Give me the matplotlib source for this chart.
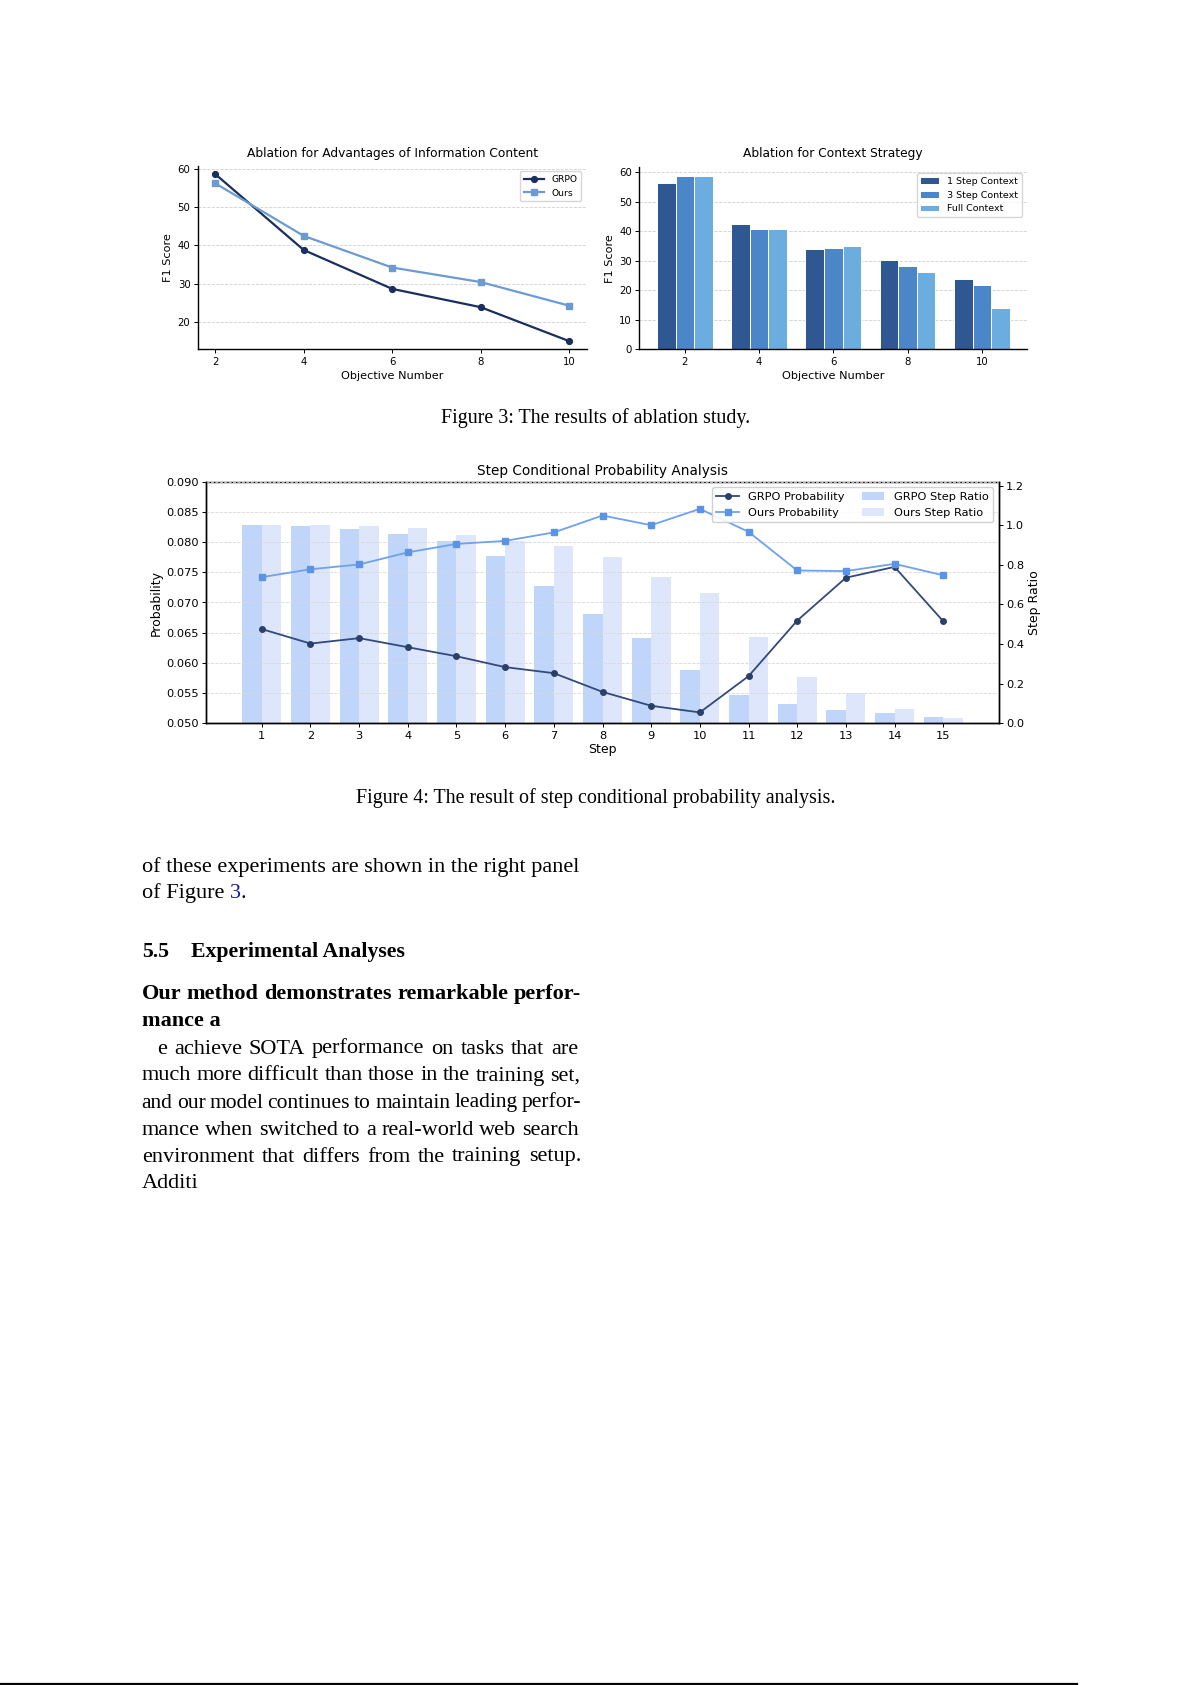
import matplotlib
matplotlib.use("Agg")
import matplotlib.pyplot as plt
import numpy as np
from matplotlib.ticker import FormatStrFormatter

# ---------------- data ----------------
objective_numbers = [2, 4, 6, 8, 10]
grpo_f1 = [58.7, 38.8, 28.6, 23.8, 14.9]
ours_f1 = [56.3, 42.5, 34.2, 30.4, 24.2]

ctx_labels = ["1 Step Context", "3 Step Context", "Full Context"]
ctx_1step = [56.3, 42.4, 33.9, 30.2, 23.8]
ctx_3step = [58.6, 40.7, 34.3, 28.2, 21.8]
ctx_full = [58.6, 40.7, 35.0, 26.2, 14.0]

steps = list(range(1, 16))
grpo_prob = [0.0656, 0.0632, 0.0641, 0.0626, 0.0611, 0.0593, 0.0583, 0.0552,
             0.0529, 0.0518, 0.0578, 0.0670, 0.0741, 0.0759, 0.0669]
ours_prob = [0.0742, 0.0755, 0.0763, 0.0783, 0.0797, 0.0802, 0.0816, 0.0844,
             0.0828, 0.0855, 0.0817, 0.0753, 0.0752, 0.0764, 0.0745]
grpo_ratio = [1.000, 0.996, 0.981, 0.956, 0.921, 0.845, 0.693, 0.552,
              0.431, 0.269, 0.145, 0.097, 0.067, 0.054, 0.032]
ours_ratio = [1.000, 1.000, 0.996, 0.986, 0.951, 0.921, 0.895, 0.840,
              0.739, 0.658, 0.436, 0.234, 0.153, 0.072, 0.027]

caption3 = "Figure 3: The results of ablation study."
caption4 = "Figure 4: The result of step conditional probability analysis."
para1_line1 = "of these experiments are shown in the right panel"
section_num = "5.5"
section_title = "Experimental Analyses"
bold_lines = ["Our method demonstrates remarkable perfor-", "mance a"]
body_lines = ["e achieve SOTA performance on tasks that are",
              "much more difficult than those in the training set,",
              "and our model continues to maintain leading perfor-",
              "mance when switched to a real-world web search",
              "environment that differs from the training setup.",
              "Additi"]

# ---------------- figure ----------------
W, H = 1192, 1685
fig = plt.figure(figsize=(W / 100, H / 100), dpi=100)
fig.patch.set_facecolor("white")
renderer = fig.canvas.get_renderer()
SERIF = ["Liberation Serif", "DejaVu Serif"]


def rect(x0, y0, x1, y1):
    return [x0 / W, 1 - y1 / H, (x1 - x0) / W, (y1 - y0) / H]


def px(x, y):
    return x / W, 1 - y / H


def word_width(w, size, weight="normal"):
    t = fig.text(0, 0, w, fontsize=size, fontweight=weight, family=SERIF)
    wd = t.get_window_extent(renderer).width
    t.remove()
    return wd


def calib(s, target, weight="normal"):
    return 20.0 * target / word_width(s, 20.0, weight)


def text_line(s, x0, yb, size, weight="normal", x1=None, mingap=4.2):
    if x1 is None:
        fig.text(*px(x0, yb), s, fontsize=size, fontweight=weight,
                 family=SERIF, va="baseline", ha="left")
        return
    words = s.split()
    widths = [word_width(w, size, weight) for w in words]
    gap = (x1 - x0 - sum(widths)) / (len(words) - 1)
    if gap < mingap:
        size = size * (x1 - x0 - mingap * (len(words) - 1)) / sum(widths)
        widths = [word_width(w, size, weight) for w in words]
        gap = (x1 - x0 - sum(widths)) / (len(words) - 1)
    x = x0
    for w, wd in zip(words, widths):
        fig.text(*px(x, yb), w, fontsize=size, fontweight=weight,
                 family=SERIF, va="baseline", ha="left")
        x += wd + gap


def style_top(ax):
    ax.spines["top"].set_visible(False)
    ax.spines["right"].set_visible(False)
    for s in ["left", "bottom"]:
        ax.spines[s].set_linewidth(1.0)
    ax.tick_params(labelsize=7.3, length=2.6, width=0.7, pad=2.6)
    ax.yaxis.grid(True, linestyle="--", color="#d0d0d0", linewidth=0.6)
    ax.set_axisbelow(True)


# ---- top-left ----
ax1 = fig.add_axes(rect(197.7, 165.9, 586.7, 349.4))
ax1.plot(objective_numbers, grpo_f1, "-o", color="#1B2F5E", lw=1.6, ms=4.2, label="GRPO")
ax1.plot(objective_numbers, ours_f1, "-s", color="#6C9BD2", lw=1.6, ms=4.2, label="Ours")
ax1.set_xticks(objective_numbers)
style_top(ax1)
ax1.set_title("Ablation for Advantages of Information Content", fontsize=8.8, pad=6.5)
ax1.set_xlabel("Objective Number", fontsize=8.1, labelpad=3)
ax1.set_ylabel("F1 Score", fontsize=8.1, labelpad=3)
ax1.legend(loc="upper right", fontsize=6.6, borderaxespad=0.6, handlelength=2.2)

# ---- top-right ----
ax2 = fig.add_axes(rect(639.3, 167.5, 1027.3, 349.3))
xo = np.array(objective_numbers, dtype=float)
bw = 0.5
ax2.bar(xo - bw, ctx_1step, bw, color="#2F5792", edgecolor="white", lw=0.7, label=ctx_labels[0])
ax2.bar(xo, ctx_3step, bw, color="#4A86C8", edgecolor="white", lw=0.7, label=ctx_labels[1])
ax2.bar(xo + bw, ctx_full, bw, color="#6BADDE", edgecolor="white", lw=0.7, label=ctx_labels[2])
ax2.set_xticks(objective_numbers)
style_top(ax2)
ax2.set_title("Ablation for Context Strategy", fontsize=8.8, pad=7.5)
ax2.set_xlabel("Objective Number", fontsize=8.1, labelpad=3)
ax2.set_ylabel("F1 Score", fontsize=8.1, labelpad=3)
ax2.legend(loc="upper right", fontsize=6.8, borderaxespad=0.6)

# ---- bottom ----
ax = fig.add_axes(rect(206.3, 481.7, 998.7, 723.3))
axr = ax.twinx()
st = np.array(steps, dtype=float)
b1 = axr.bar(st - 0.2, grpo_ratio, 0.4, color="#BFD6FA", label="GRPO Step Ratio")
b2 = axr.bar(st + 0.2, ours_ratio, 0.4, color="#DDE6FB", label="Ours Step Ratio")
l1, = ax.plot(steps, grpo_prob, "-o", color="#34497A", lw=1.3, ms=4.0,
              markerfacecolor="#2B3F6B", markeredgecolor="#2B3F6B", label="GRPO Probability")
l2, = ax.plot(steps, ours_prob, "-s", color="#6EA2EC", lw=1.3, ms=4.3,
              markerfacecolor="#5B94E6", markeredgecolor="#5B94E6", label="Ours Probability")
ax.set_zorder(axr.get_zorder() + 1)
ax.patch.set_visible(False)
ax.set_xlim(-0.14, 16.14)
ax.set_ylim(0.05, 0.09)
ax.set_yticks(np.arange(0.050, 0.0901, 0.005))
ax.yaxis.set_major_formatter(FormatStrFormatter("%.3f"))
axr.set_ylim(0, 1.22)
axr.set_yticks([0.0, 0.2, 0.4, 0.6, 0.8, 1.0, 1.2])
axr.yaxis.set_major_formatter(FormatStrFormatter("%.1f"))
ax.set_xticks(steps)
ax.spines["top"].set_visible(False)
for a in (ax, axr):
    a.tick_params(labelsize=8.2, length=2.6, width=0.7, pad=2.6)
    for s in a.spines.values():
        s.set_linewidth(1.0)
ax.yaxis.grid(True, linestyle="--", color="#d8d8d8", linewidth=0.6)
ax.set_title("Step Conditional Probability Analysis", fontsize=9.85, pad=5)
ax.set_xlabel("Step", fontsize=9.0, labelpad=2)
ax.set_ylabel("Probability", fontsize=9.0, labelpad=3)
axr.set_ylabel("Step Ratio", fontsize=9.0, labelpad=3)
ax.legend([l1, l2, b1, b2], [l1.get_label(), l2.get_label(), b1.get_label(), b2.get_label()],
          loc="upper right", ncol=2, fontsize=8.2, borderaxespad=0.5, framealpha=0.9,
          columnspacing=1.5)

# ---------------- page text ----------------
BODY = calib(para1_line1, 436.6)
CAP = calib(caption4, 480.0)
HEAD = calib(section_title, 214.0, "bold")
fig.text(*px(596, 423.5), caption3, fontsize=CAP, family=SERIF, ha="center", va="baseline")
fig.text(*px(596, 803.3), caption4, fontsize=CAP, family=SERIF, ha="center", va="baseline")

text_line(para1_line1, 141.7, 871.7, BODY)
# "of Figure 3." with link-coloured number
t = fig.text(*px(141.7, 898.3), "of Figure", fontsize=BODY, family=SERIF, va="baseline")
wfig = t.get_window_extent(renderer).width + word_width("a b", BODY) - word_width("ab", BODY)
t3 = fig.text(*px(141.7 + wfig, 898.3), "3", fontsize=BODY, family=SERIF, va="baseline",
              color="#1a1a99")
w3 = t3.get_window_extent(renderer).width
fig.text(*px(141.7 + wfig + w3, 898.3), ".", fontsize=BODY, family=SERIF, va="baseline")

fig.text(*px(141.7, 957.3), section_num, fontsize=HEAD, fontweight="bold", family=SERIF, va="baseline")
fig.text(*px(191.0, 957.3), section_title, fontsize=HEAD, fontweight="bold", family=SERIF, va="baseline")

text_line(bold_lines[0], 141.7, 999.3, BODY, weight="bold", x1=581)
text_line(bold_lines[1], 141.7, 1026.0, BODY, weight="bold")

body_base = [1053.5, 1080.5, 1107.5, 1134.5, 1161.5, 1188.3]
body_x0 = [157.3, 141.7, 141.7, 141.7, 141.7, 141.7]
body_x1 = [578.5, 580.5, 581, 578.5, 581, None]
for s, yb, x0, x1 in zip(body_lines, body_base, body_x0, body_x1):
    text_line(s, x0, yb, BODY, x1=x1)

fig.add_artist(plt.Line2D([0, 1077 / W], [1 - 1683.5 / H, 1 - 1683.5 / H],
                          color="black", lw=1.6, transform=fig.transFigure))

fig.savefig("out.png", dpi=100, facecolor="white")
